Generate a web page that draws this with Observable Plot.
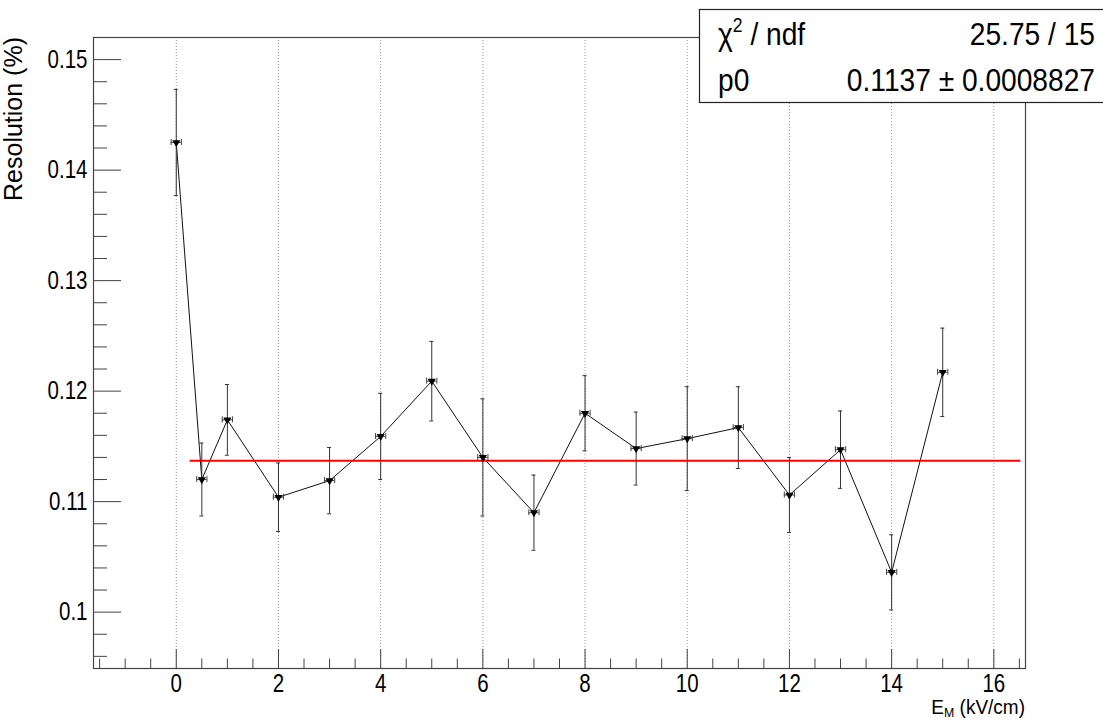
<!DOCTYPE html>
<html>
<head>
<meta charset="utf-8">
<script src="https://cdn.jsdelivr.net/npm/d3@7"></script>
<script src="https://cdn.jsdelivr.net/npm/@observablehq/plot@0.6"></script>
<style>
  html, body { margin: 0; padding: 0; background: #fff; overflow: hidden; }
  #chart { width: 1103px; height: 720px; overflow: hidden; }
</style>
</head>
<body>
<div id="chart"></div>
<script>
// Drift field E_M (kV/cm) and measured energy resolution with errors
const fieldKV = [0, 0.5, 1, 2, 3, 4, 5, 6, 7, 8, 9, 10, 11, 12, 13, 14, 15];
const fieldErr = [0.1, 0.1, 0.1, 0.1, 0.1, 0.1, 0.1, 0.1, 0.1, 0.1, 0.1, 0.1, 0.1, 0.1, 0.1, 0.1, 0.1];
const resolution = [0.1425, 0.1120, 0.1174, 0.1104, 0.1119, 0.1159, 0.1209, 0.1140, 0.1090,
                    0.1180, 0.1148, 0.1157, 0.1167, 0.1106, 0.1147, 0.1036, 0.1217];
const resolutionErr = [0.0048, 0.0033, 0.0032, 0.0031, 0.0030, 0.0039, 0.0036, 0.0053, 0.0034,
                       0.0034, 0.0033, 0.0047, 0.0037, 0.0034, 0.0035, 0.0034, 0.0040];

// Constant fit (pol0) result
const fitP0 = 0.1137;
const fitP0Err = 0.0008827;
const fitChi2 = 25.75;
const fitNdf = 15;
const fitRange = [0.27, 16.53];

// Axis ranges and ticks
const xDomain = [-1.62, 16.62];
const yDomain = [0.0949, 0.1520];
const xMajorTicks = [0, 2, 4, 6, 8, 10, 12, 14, 16];
const xMinorTicks = d3.range(-1.5, 16.75, 0.5).filter(v => !xMajorTicks.includes(v));
const yMajorTicks = [0.10, 0.11, 0.12, 0.13, 0.14, 0.15];
const yMinorTicks = d3.range(96, 153, 2).map(v => v / 1000).filter(v => !yMajorTicks.some(t => Math.abs(t - v) < 1e-9));

const points = fieldKV.map((x, i) => ({x, ex: fieldErr[i], y: resolution[i], ey: resolutionErr[i]}));

const W = 1103, H = 720;
const mL = 93, mR = 78, mT = 37, mB = 52;
const plotW = W - mL - mR, plotH = H - mT - mB;
const axisColor = "#444";

const chart = Plot.plot({
  width: W,
  height: H,
  marginLeft: mL,
  marginRight: mR,
  marginTop: mT,
  marginBottom: mB,
  style: {fontFamily: "'Liberation Sans', Arial, sans-serif", fontSize: "25px", color: "#000", background: "#fff"},
  x: {domain: xDomain, axis: null},
  y: {domain: yDomain, axis: null},
  marks: [
    // vertical dotted grid
    Plot.ruleX(xMajorTicks, {x: d => d, stroke: "#999", strokeDasharray: "1,2", strokeWidth: 1}),
    // inward ticks
    Plot.ruleX(xMajorTicks, {x: d => d, insetTop: plotH - 19, stroke: axisColor}),
    Plot.ruleX(xMinorTicks, {x: d => d, insetTop: plotH - 9.5, stroke: axisColor}),
    Plot.ruleY(yMajorTicks, {y: d => d, insetRight: plotW - 28, stroke: axisColor}),
    Plot.ruleY(yMinorTicks, {y: d => d, insetRight: plotW - 14, stroke: axisColor}),
    Plot.frame({stroke: axisColor, strokeWidth: 1.2}),
    Plot.axisX(xMajorTicks, {tickSize: 0, tickPadding: 6, fontSize: 25, label: null, tickFormat: d => String(d)}),
    Plot.axisY(yMajorTicks, {tickSize: 0, tickPadding: 6, fontSize: 25, label: null, tickFormat: d => String(+d.toFixed(2))}),
    // connecting line
    Plot.line(points, {x: "x", y: "y", stroke: "#111", strokeWidth: 1}),
    // vertical error bars with caps
    Plot.ruleX(points, {x: "x", y1: d => d.y - d.ey, y2: d => d.y + d.ey, stroke: "#333", strokeWidth: 1}),
    Plot.ruleY(points, {y: d => d.y + d.ey, x1: "x", x2: "x", insetLeft: -2, insetRight: -2, stroke: "#333"}),
    Plot.ruleY(points, {y: d => d.y - d.ey, x1: "x", x2: "x", insetLeft: -2, insetRight: -2, stroke: "#333"}),
    // horizontal error bars with caps
    Plot.ruleY(points, {y: "y", x1: d => d.x - d.ex, x2: d => d.x + d.ex, stroke: "#444", strokeWidth: 1}),
    Plot.ruleX(points, {x: d => d.x - d.ex, y1: "y", y2: "y", insetTop: -3, insetBottom: -3, stroke: "#444"}),
    Plot.ruleX(points, {x: d => d.x + d.ex, y1: "y", y2: "y", insetTop: -3, insetBottom: -3, stroke: "#444"}),
    // constant fit
    Plot.ruleY([fitP0], {y: d => d, x1: fitRange[0], x2: fitRange[1], stroke: "#ff0000", strokeWidth: 2}),
    // markers: filled downward triangles
    Plot.dot(points, {x: "x", y: "y", symbol: "triangle", rotate: 180, r: 3, fill: "#000", stroke: "none"})
  ]
});

document.getElementById("chart").appendChild(chart);

const svg = d3.select(chart);

// narrow tick label glyphs
svg.selectAll('g[aria-label="x-axis tick label"] text, g[aria-label="y-axis tick label"] text')
  .attr("transform", function () { return (this.getAttribute("transform") || "") + " scale(0.82,1)"; });

// axis titles
svg.append("text")
  .attr("transform", "translate(21.5,37) rotate(-90)")
  .attr("text-anchor", "end")
  .attr("font-size", 25)
  .attr("fill", "#000")
  .text("Resolution (%)");

const xt = svg.append("text")
  .attr("transform", "translate(1025,714) scale(0.95,1)")
  .attr("text-anchor", "end")
  .attr("font-size", 20)
  .attr("fill", "#000");
xt.append("tspan").text("E");
xt.append("tspan").attr("font-size", 13).attr("dy", 3).text("M");
xt.append("tspan").attr("dy", -3).text(" (kV/cm)");

// fit statistics box
const stats = svg.append("g").attr("font-size", 32).attr("fill", "#000");
stats.append("rect")
  .attr("x", 699.5).attr("y", 9.5).attr("width", 430).attr("height", 93)
  .attr("fill", "#fff").attr("stroke", "#222").attr("stroke-width", 1.2);
const row1 = stats.append("text").attr("transform", "translate(718,45) scale(0.88,1)").attr("text-anchor", "start");
row1.append("tspan").text("χ");
row1.append("tspan").attr("font-size", 20).attr("dy", -13).text("2");
row1.append("tspan").attr("dy", 13).text(" / ndf");
stats.append("text").attr("transform", "translate(1095,45) scale(0.88,1)").attr("text-anchor", "end")
  .text(`${fitChi2} / ${fitNdf}`);
stats.append("text").attr("transform", "translate(718,91) scale(0.88,1)").attr("text-anchor", "start").text("p0");
stats.append("text").attr("transform", "translate(1095,91) scale(0.88,1)").attr("text-anchor", "end")
  .text(`${fitP0} ± ${fitP0Err}`);
</script>
</body>
</html>
